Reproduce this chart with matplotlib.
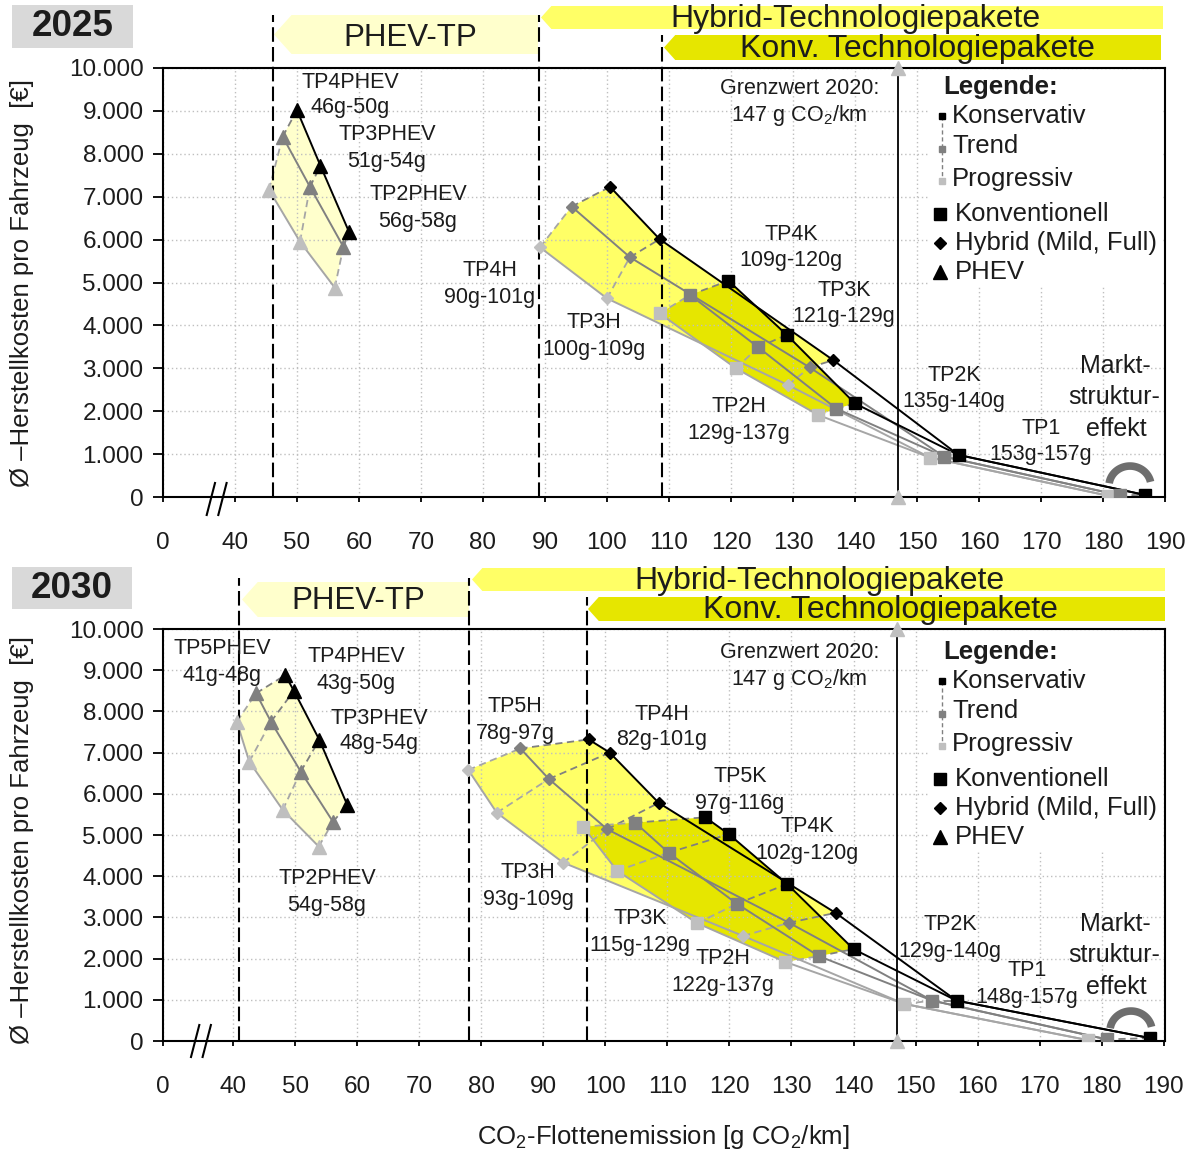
import numpy as np
import matplotlib
matplotlib.use("Agg")
import matplotlib.pyplot as plt
from matplotlib.patches import Polygon, Rectangle
from matplotlib.lines import Line2D

plt.rcParams["font.family"] = ["Liberation Sans", "DejaVu Sans"]
plt.rcParams["mathtext.fontset"] = "custom"
plt.rcParams["mathtext.rm"] = "Liberation Sans"
plt.rcParams["mathtext.it"] = "Liberation Sans:italic"
plt.rcParams["mathtext.bf"] = "Liberation Sans:bold"

# ---------------------------------------------------------------- 2025 data
# CO2 fleet emission [g/km] and average manufacturing cost per vehicle [EUR]
# scenarios: kons = Konservativ, trend = Trend, prog = Progressiv
phev25_names = ["TP4PHEV", "TP3PHEV", "TP2PHEV"]
phev25_ranges = ["46g-50g", "51g-54g", "56g-58g"]
phev25_kons_x = [50.0, 53.8, 58.4]
phev25_kons_y = [9020, 7720, 6180]
phev25_trend_x = [47.7, 52.1, 57.5]
phev25_trend_y = [8400, 7230, 5830]
phev25_prog_x = [45.5, 50.5, 56.1]
phev25_prog_y = [7160, 5950, 4880]

hyb25_names = ["TP4H", "TP3H", "TP2H"]
hyb25_ranges = ["90g-101g", "100g-109g", "129g-137g"]
hyb25_kons_x = [100.5, 108.5, 136.5]
hyb25_kons_y = [7230, 6010, 3190]
hyb25_trend_x = [94.3, 103.7, 132.7]
hyb25_trend_y = [6770, 5590, 3020]
hyb25_prog_x = [89.2, 100.0, 129.2]
hyb25_prog_y = [5820, 4630, 2610]

konv25_names = ["TP4K", "TP3K", "TP2K", "TP1"]
konv25_ranges = ["109g-120g", "121g-129g", "135g-140g", "153g-157g"]
konv25_kons_x = [119.6, 129.0, 140.0, 156.7, 186.7]
konv25_kons_y = [5040, 3780, 2180, 980, 50]
konv25_trend_x = [113.4, 124.4, 137.0, 154.4, 182.7]
konv25_trend_y = [4710, 3490, 2060, 940, 40]
konv25_prog_x = [108.5, 120.8, 134.1, 152.1, 180.8]
konv25_prog_y = [4280, 3000, 1910, 920, 30]

# ---------------------------------------------------------------- 2030 data
phev30_names = ["TP5PHEV", "TP4PHEV", "TP3PHEV", "TP2PHEV"]
phev30_ranges = ["41g-48g", "43g-50g", "48g-54g", "54g-58g"]
phev30_kons_x = [48.4, 49.8, 53.9, 58.4]
phev30_kons_y = [8880, 8500, 7310, 5730]
phev30_trend_x = [43.7, 46.1, 50.9, 56.1]
phev30_trend_y = [8440, 7750, 6540, 5320]
phev30_prog_x = [40.6, 42.6, 48.0, 53.8]
phev30_prog_y = [7750, 6780, 5610, 4720]

hyb30_names = ["TP5H", "TP4H", "TP3H", "TP2H"]
hyb30_ranges = ["78g-97g", "82g-101g", "93g-109g", "122g-137g"]
hyb30_kons_x = [97.3, 100.7, 108.6, 137.1]
hyb30_kons_y = [7320, 7000, 5780, 3110]
hyb30_trend_x = [86.3, 90.9, 100.3, 129.6]
hyb30_trend_y = [7100, 6360, 5140, 2870]
hyb30_prog_x = [77.9, 82.5, 93.2, 122.2]
hyb30_prog_y = [6580, 5540, 4330, 2550]

konv30_names = ["TP5K", "TP4K", "TP3K", "TP2K", "TP1"]
konv30_ranges = ["97g-116g", "102g-120g", "115g-129g", "129g-140g", "148g-157g"]
konv30_kons_x = [116.1, 119.9, 129.3, 140.0, 156.6, 187.8]
konv30_kons_y = [5430, 5020, 3810, 2230, 980, 70]
konv30_trend_x = [104.8, 110.2, 121.2, 134.4, 152.7, 180.8]
konv30_trend_y = [5300, 4570, 3330, 2060, 980, 40]
konv30_prog_x = [96.4, 101.9, 114.8, 129.0, 148.2, 177.8]
konv30_prog_y = [5200, 4130, 2860, 1920, 900, 20]

limit_2020 = 147          # Grenzwert 2020 [g CO2/km]
x_ticks = list(range(40, 191, 10))
y_ticks = list(range(0, 10001, 1000))

# ---------------------------------------------------------------- styling
W, H = 1195, 1151
KC, TC, PC = "#000000", "#808080", "#BFBFBF"      # marker colours
KL, TL, PL = "#000000", "#808080", "#A6A6A6"      # line colours
TXT = "#1c1c1c"

fig = plt.figure(figsize=(W / 100, H / 100), dpi=100)


def fx(px):
    return np.asarray(px) / W


def fy(py):
    return 1 - np.asarray(py) / H


def ftext(px, py, s, size=15.5, ha="center", va="center", weight="normal",
          rotation=0, zorder=8):
    fig.text(fx(px), fy(py), s, fontsize=size, ha=ha, va=va, fontweight=weight,
             rotation=rotation, color=TXT, zorder=zorder)


def fline(xs, ys, **kw):
    fig.add_artist(Line2D(fx(xs), fy(ys), transform=fig.transFigure, **kw))


def band(x_tip, x_right, y_top, y_bot, color):
    d = (y_bot - y_top) * 0.45
    ym = (y_top + y_bot) / 2
    pts = [(x_tip, ym), (x_tip + d, y_top), (x_right, y_top),
           (x_right, y_bot), (x_tip + d, y_bot)]
    fig.add_artist(Polygon([(fx(a), fy(b)) for a, b in pts], closed=True,
                           transform=fig.transFigure, fc=color, ec="none",
                           zorder=-1))


def group(kx, ky, tx, ty, px_, py_):
    return {"kons": (list(kx), list(ky)), "trend": (list(tx), list(ty)),
            "prog": (list(px_), list(py_))}


def hull(g, n):
    kx, ky = g["kons"]
    tx, ty = g["trend"]
    px_, py_ = g["prog"]
    xs = kx[:n] + [tx[n - 1]] + px_[:n][::-1] + [tx[0]]
    ys = ky[:n] + [ty[n - 1]] + py_[:n][::-1] + [ty[0]]
    return np.column_stack([xs, ys])


def draw_panel(ax, phev, hyb, konv, n_konv_fill, xlim, vdash):
    ax.set_xlim(*xlim)
    ax.set_ylim(0, 10000)
    ax.set_axisbelow(True)

    # shaded technology-package areas
    ax.add_patch(Polygon(hull(phev, len(phev["kons"][0])), closed=True,
                         fc="#FFFFCC", ec="none", zorder=0.2))
    ax.add_patch(Polygon(hull(hyb, len(hyb["kons"][0])), closed=True,
                         fc="#FFFF66", ec="none", zorder=0.25))
    ax.add_patch(Polygon(hull(konv, n_konv_fill), closed=True,
                         fc="#E6E600", ec="none", zorder=0.3))

    # dashed links between the scenarios of one package
    for g in (phev, hyb, konv):
        for i in range(len(g["kons"][0])):
            ax.plot([g["prog"][0][i], g["trend"][0][i]],
                    [g["prog"][1][i], g["trend"][1][i]],
                    color=PL, lw=1.3, ls=(0, (4, 2.5)), zorder=2.5)
            ax.plot([g["trend"][0][i], g["kons"][0][i]],
                    [g["trend"][1][i], g["kons"][1][i]],
                    color=TL, lw=1.3, ls=(0, (4, 2.5)), zorder=2.5)

    # solid scenario paths
    for key, lc, z in (("prog", PL, 3.0), ("trend", TL, 3.1), ("kons", KL, 3.2)):
        ax.plot(*phev[key], color=lc, lw=1.4, zorder=z)
        ax.plot(*konv[key], color=lc, lw=1.4, zorder=z)
        hx = hyb[key][0] + konv[key][0][-2:]
        hy = hyb[key][1] + konv[key][1][-2:]
        ax.plot(hx, hy, color=lc, lw=1.4, zorder=z)

    # markers
    for g, m, ms in ((phev, "^", 9.5), (hyb, "D", 6.5), (konv, "s", 8)):
        for key, c, z in (("prog", PC, 4.0), ("trend", TC, 4.1), ("kons", KC, 4.2)):
            ax.plot(*g[key], ls="none", marker=m, ms=ms, mfc=c, mec=c, zorder=z)

    # package boundaries (extend into the header)
    for xv, ytop in vdash:
        ax.plot([xv, xv], [0, ytop], color="k", lw=1.5, ls=(0, (7, 2.5)),
                clip_on=False, zorder=3.5)

    # CO2 limit 2020
    ax.plot([limit_2020, limit_2020], [0, 10000], color="k", lw=1.3, zorder=3.5)
    ax.plot([limit_2020, limit_2020], [0, 10000], ls="none", marker="^",
            ms=10, mfc=PC, mec=PC, clip_on=False, zorder=5)

    # axes formatting
    ax.set_xticks([xlim[0]] + x_ticks)
    ax.set_xticklabels(["0"] + [str(v) for v in x_ticks])
    ax.set_yticks(y_ticks)
    ax.set_yticklabels([f"{v:,}".replace(",", ".") for v in y_ticks])
    ax.grid(True, ls=(0, (1, 2)), color="#BFBFBF", lw=1.0)
    ax.tick_params(axis="x", direction="out", length=3.5, width=1.3,
                   labelsize=17.5, pad=22, labelcolor=TXT)
    ax.tick_params(axis="y", direction="out", length=7, width=1.3,
                   labelsize=17.5, pad=7, labelcolor=TXT)
    for sp in ax.spines.values():
        sp.set_linewidth(1.5)
        sp.set_color("k")


def legend(y0, dy):
    fig.add_artist(Rectangle((fx(929), fy(286 + dy)), (1162 - 929) / W,
                             (286 + dy - y0) / H, transform=fig.transFigure,
                             fc="white", ec="none", zorder=6))
    ftext(943, 87 + dy, "Legende:", size=18.5, ha="left", weight="bold")
    fline([941.5, 941.5], [116 + dy, 181 + dy], color=TL, lw=1.0,
          ls=(0, (3, 2)), zorder=7)
    for yy, ty, c, s in ((116, 116, KC, "Konservativ"), (149, 146, TC, "Trend"),
                         (181, 179, PC, "Progressiv")):
        fline([941.5], [yy + dy], ls="none", marker="s", ms=5, mfc=c, mec=c,
              zorder=7.5)
        ftext(952, ty + dy, s, size=18.5, ha="left")
    for yy, m, ms, s in ((214, "s", 8, "Konventionell"),
                         (243, "D", 6.5, "Hybrid (Mild, Full)"),
                         (272, "^", 9.5, "PHEV")):
        fline([940], [yy + dy], ls="none", marker=m, ms=ms, mfc="k", mec="k",
              zorder=7.5)
        ftext(955, yy + dy, s, size=18.5, ha="left")


def arc(cx, cy, r):
    t = np.linspace(np.radians(12), np.radians(172), 80)
    fline(cx + r * np.cos(t), cy - r * 0.95 * np.sin(t), color="#6E6E6E",
          lw=5.5, solid_capstyle="butt", zorder=7)


def axis_break(x, y):
    for off in (0, 11.6):
        fline([x + off, x + off + 8.3], [y + 16, y - 16], color="k", lw=1.5,
              zorder=7)


def label_pairs(names, ranges, positions):
    for name, rng, (cx, y1, y2) in zip(names, ranges, positions):
        ftext(cx, y1, name)
        ftext(cx, y2, rng)


# ---------------------------------------------------------------- 2025 panel
ax1 = fig.add_axes([fx(163), fy(497), (1165 - 163) / W, (497 - 68) / H])
g_phev25 = group(phev25_kons_x, phev25_kons_y, phev25_trend_x, phev25_trend_y,
                 phev25_prog_x, phev25_prog_y)
g_hyb25 = group(hyb25_kons_x, hyb25_kons_y, hyb25_trend_x, hyb25_trend_y,
                hyb25_prog_x, hyb25_prog_y)
g_konv25 = group(konv25_kons_x, konv25_kons_y, konv25_trend_x, konv25_trend_y,
                 konv25_prog_x, konv25_prog_y)
draw_panel(ax1, g_phev25, g_hyb25, g_konv25, 3, (28.4, 190.0),
           [(46.1, 11235), (89.0, 11235), (108.9, 10770)])

# ---------------------------------------------------------------- 2030 panel
ax2 = fig.add_axes([fx(163), fy(1041), (1165 - 163) / W, (1041 - 629) / H])
g_phev30 = group(phev30_kons_x, phev30_kons_y, phev30_trend_x, phev30_trend_y,
                 phev30_prog_x, phev30_prog_y)
g_hyb30 = group(hyb30_kons_x, hyb30_kons_y, hyb30_trend_x, hyb30_trend_y,
                hyb30_prog_x, hyb30_prog_y)
g_konv30 = group(konv30_kons_x, konv30_kons_y, konv30_trend_x, konv30_trend_y,
                 konv30_prog_x, konv30_prog_y)
draw_panel(ax2, g_phev30, g_hyb30, g_konv30, 4, (28.7, 190.2),
           [(41.0, 11238), (78.1, 11238), (97.1, 10777)])

# ---------------------------------------------------------------- headers
for (x0, y0, x1, y1, yr, cy) in ((12, 5, 133, 48, "2025", 27),
                                 (12, 567, 132, 609, "2030", 589)):
    fig.add_artist(Rectangle((fx(x0), fy(y1)), (x1 - x0) / W, (y1 - y0) / H,
                             transform=fig.transFigure, fc="#D9D9D9",
                             ec="none", zorder=-1))
    ftext((x0 + x1) / 2, cy, yr, size=26.5, weight="bold")

band(274, 538, 15, 54, "#FFFFCC")
band(541, 1163, 6, 29, "#FFFF66")
band(664, 1161, 35, 60, "#E6E600")
ftext(410, 38, "PHEV-TP", size=22.5)
ftext(855, 19, "Hybrid-Technologiepakete", size=23)
ftext(917, 49, "Konv. Technologiepakete", size=23)

band(242, 469, 582, 617, "#FFFFCC")
band(472, 1165, 568, 591, "#FFFF66")
band(588, 1165, 597, 621, "#E6E600")
ftext(358, 601, "PHEV-TP", size=22.5)
ftext(819, 581, "Hybrid-Technologiepakete", size=23)
ftext(880, 610, "Konv. Technologiepakete", size=23)

# ---------------------------------------------------------------- package labels
label_pairs(phev25_names, phev25_ranges,
            [(350, 82, 108), (387, 134, 161), (418, 195, 221)])
label_pairs(hyb25_names, hyb25_ranges,
            [(490, 270, 297), (594, 323, 350), (739, 407, 433)])
label_pairs(konv25_names, konv25_ranges,
            [(791, 234, 260), (844, 291, 317), (954, 376, 402), (1041, 429, 455)])

label_pairs(phev30_names, phev30_ranges,
            [(222, 649, 676), (356, 657, 683), (379, 718, 744), (327, 879, 905)])
label_pairs(hyb30_names, hyb30_ranges,
            [(515, 706, 733), (662, 714, 740), (528, 872, 899), (723, 958, 985)])
label_pairs(konv30_names, konv30_ranges,
            [(740, 777, 804), (807, 827, 854), (640, 918, 945), (950, 924, 951),
             (1027, 971, 998)])

for dy in (0, 558):
    ftext(1115, 366 + dy, "Markt-", size=18)
    ftext(1114, 397 + dy, "struktur-", size=18)
    ftext(1116, 429 + dy, "effekt", size=18)
arc(1130, 486, 21)
arc(1131, 1031, 21)

for cy in (89, 652):
    ftext(800, cy, "Grenzwert 2020:", size=15.5)
    ftext(799, cy + 27, f"{limit_2020} g CO$_2$/km", size=15.5)

legend(70, 0)
legend(631, 565)

axis_break(206.7, 499)
axis_break(191.0, 1041)

# ---------------------------------------------------------------- axis titles
ftext(22, 283, "Ø –Herstellkosten pro Fahrzeug  [€]", size=18.5, rotation=90)
ftext(22, 840, "Ø –Herstellkosten pro Fahrzeug  [€]", size=18.5, rotation=90)
ftext(663, 1137, "CO$_2$-Flottenemission [g CO$_2$/km]", size=18.5)

fig.savefig("out.png", dpi=100)
